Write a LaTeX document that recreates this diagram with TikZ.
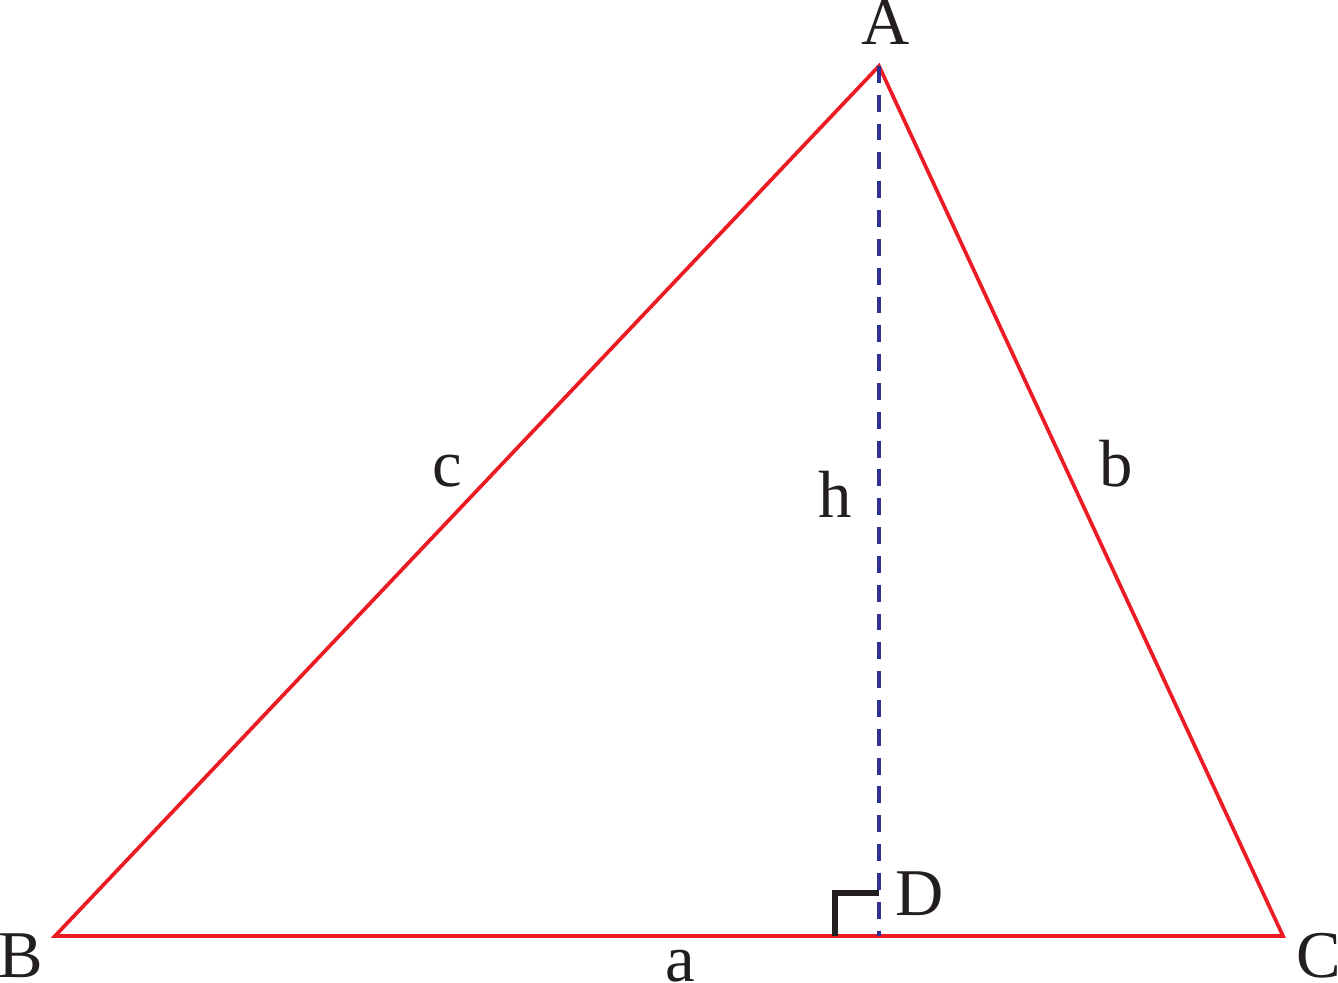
\documentclass[tikz,border=0pt]{standalone}
\usepackage{fontspec}
\setmainfont{Liberation Serif}
\definecolor{sidered}{RGB}{237,28,36}
\definecolor{heightblue}{RGB}{46,49,146}
\definecolor{markblack}{RGB}{35,31,32}
\begin{document}
\begin{tikzpicture}[
    side/.style={draw=sidered, line width=2.1pt, line join=miter},
    height/.style={draw=heightblue, line width=2.4pt, dash pattern=on 9.6pt off 6.8pt},
    rightmark/.style={draw=markblack, line width=3.2pt},
    letter/.style={anchor=base, inner sep=0pt, text=markblack, font=\fontsize{38}{40}\selectfont}
]
\useasboundingbox (0,0) rectangle (26.76,19.66);

\coordinate (A) at (17.58,18.34);
\coordinate (B) at (1.10,0.94);
\coordinate (C) at (25.66,0.94);
\coordinate (D) at (17.58,0.94);
\coordinate (E) at (16.70,0.94);
\coordinate (F) at (16.70,1.80);
\coordinate (G) at (17.58,1.80);

\draw[side] (A) -- (B) -- (C) -- cycle;
\draw[rightmark] (E) -- (F) -- (G);
\draw[height] (A) -- (D);

\node[letter] (lA) at (17.72,18.76) {A};
\node[letter] (lB) at (0.42,0.10) {B};
\node[letter] (lC) at (26.38,0.10) {C};
\node[letter] (lD) at (18.40,1.34) {D};
\node[letter] (la) at (13.60,0.02) {a};
\node[letter] (lb) at (22.32,9.92) {b};
\node[letter] (lc) at (8.94,9.92) {c};
\node[letter] (lh) at (16.70,9.30) {h};

\end{tikzpicture}
\end{document}
